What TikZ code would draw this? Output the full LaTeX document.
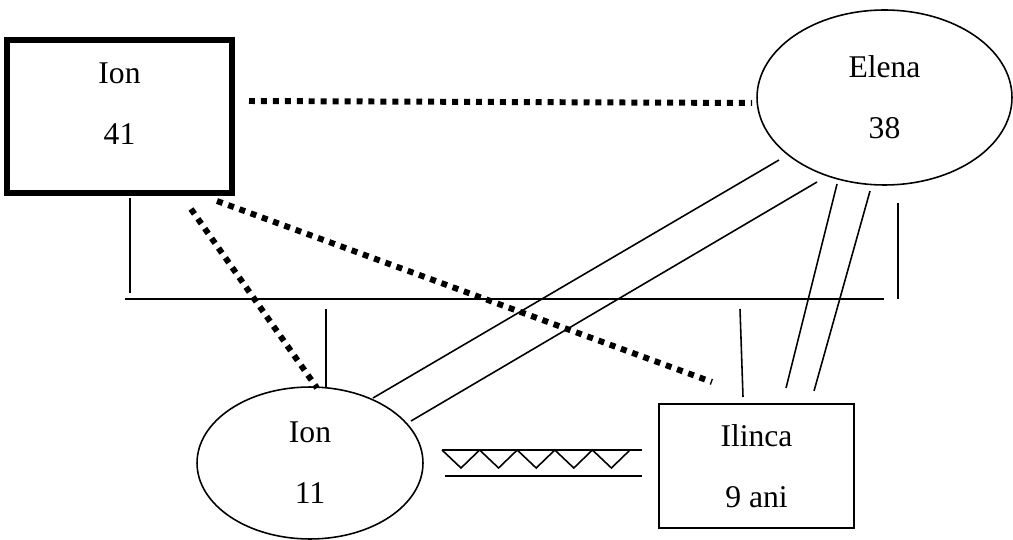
\documentclass[tikz,border=0pt]{standalone}
\usepackage{fontspec}
\setmainfont{Liberation Serif}
\usetikzlibrary{shapes.geometric}

\begin{document}
\begin{tikzpicture}[x=0.02cm, y=-0.02cm, person/.style={
		% The border
		draw=black, line width=0.9pt,
		% The size
		inner sep=0pt,
		% The text
		align=center, font=\fontsize{18pt}{34.6pt}\selectfont},
	link/.style={line width=0.9pt},
	dotline/.style={line width=3.4pt, dash pattern=on 3.4pt off 3.4pt}]
    \useasboundingbox (0,0) rectangle (1013,540);

    \node [person, rectangle, line width=3.4pt, minimum width=4.5cm, minimum height=3.06cm, text depth=0.5cm] (ion41) at (119.5,116.5) {Ion\\41};
    \node [person, ellipse, minimum width=5.1cm, minimum height=3.5cm] (elena) at (884.5,97.5) {Elena\\38};
    \node [person, ellipse, minimum width=4.52cm, minimum height=3.04cm] (ion11) at (310,463) {Ion\\11};
    \node [person, rectangle, minimum width=3.9cm, minimum height=2.48cm] (ilinca) at (756.5,466) {Ilinca\\9 ani};

    % ends of the lines
    \foreach \n/\x/\y in {a1/249/101, a2/752/103, b1/191/209, b2/317/388, c1/217/201, c2/712/382,
        d1/373/398, d2/779/160, d3/411/421, d4/817/182,
        e1/786/388, e2/837/184, e3/814/391, e4/870/191,
        barL/125/299, barR/884/299, f1/130/198, f2/130/293, g1/898/203, g2/898/299,
        h1/326/309, h2/326/388, k1/740/309, k2/743/397,
        z1/442/450, z2/642/450, z3/445/476, z4/642/476}{
      \coordinate (\n) at (\x,\y);
    }

    \draw [dotline] (a1) -- (a2);
    \draw [dotline] (b1) -- (b2);
    \draw [dotline] (c1) -- (c2);

    \draw [link] (d1) -- (d2);
    \draw [link] (d3) -- (d4);
    \draw [link] (e1) -- (e2);
    \draw [link] (e3) -- (e4);

    \draw [link] (barL) -- (barR);
    \draw [link] (f1) -- (f2);
    \draw [link] (g1) -- (g2);
    \draw [link] (h1) -- (h2);
    \draw [link] (k1) -- (k2);

    \draw [link] (z1) -- (z2);
    \draw [link] (z3) -- (z4);
    \draw [link] (z1) \foreach \i in {1,...,5}{ -- ++(19,18) -- ++(18.6,-18) };

    \end{tikzpicture}
\end{document}
